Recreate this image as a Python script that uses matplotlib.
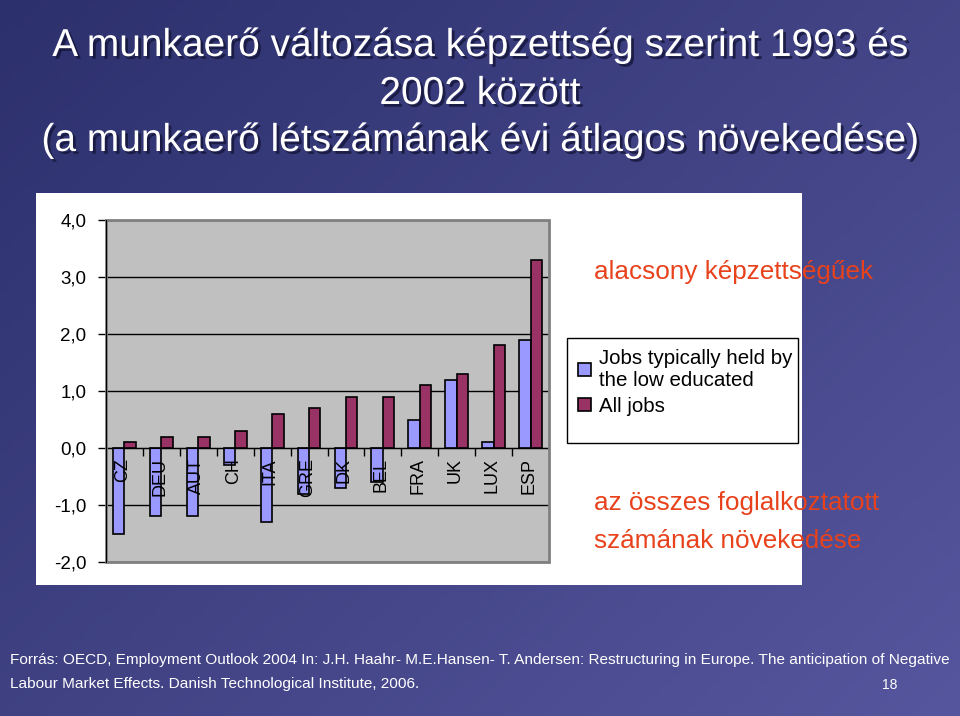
import numpy as np
import matplotlib.pyplot as plt
import matplotlib.patheffects as pe
from matplotlib.patches import Rectangle
from matplotlib.ticker import FuncFormatter, FixedLocator

# adatok (leolvasva az abrarol)
orszagok = ['CZ', 'DEU', 'AUT', 'CH', 'ITA', 'GRE', 'DK', 'BEL', 'FRA', 'UK', 'LUX', 'ESP']
alacsony = [-1.5, -1.2, -1.2, -0.3, -1.3, -0.8, -0.7, -0.6, 0.5, 1.2, 0.1, 1.9]
osszes = [0.1, 0.2, 0.2, 0.3, 0.6, 0.7, 0.9, 0.9, 1.1, 1.3, 1.8, 3.3]
sor_nevek = ['Jobs typically held by\nthe low educated', 'All jobs']
y_tickek = [-2, -1, 0, 1, 2, 3, 4]

cim = ['A munkaerő változása képzettség szerint 1993 és',
       '2002 között',
       '(a munkaerő létszámának évi átlagos növekedése)']
forras = ['Forrás: OECD, Employment Outlook 2004 In: J.H. Haahr- M.E.Hansen- T. Andersen: '
          'Restructuring in Europe. The anticipation of Negative',
          'Labour Market Effects. Danish Technological Institute, 2006.']

plt.rcParams['font.family'] = ['Liberation Sans', 'DejaVu Sans']

W, H = 960, 716
fig = plt.figure(figsize=(W / 100, H / 100), dpi=100)

def fx(px):
    return px / W

def fy(py):
    return 1 - py / H

# hatter: kek atmenet
bg = fig.add_axes([0, 0, 1, 1], zorder=-10)
gx, gy = np.meshgrid(np.linspace(0, 1, 200), np.linspace(0, 1, 150))
t = 0.55 * gx + 0.45 * gy
c0 = np.array([44, 48, 108]) / 255
c1 = np.array([86, 86, 158]) / 255
img = c0[None, None, :] * (1 - t[..., None]) + c1[None, None, :] * t[..., None]
bg.imshow(img, aspect='auto', extent=[0, 1, 0, 1], origin='upper')
bg.set_xlim(0, 1)
bg.set_ylim(0, 1)
bg.axis('off')

# feher panel
fig.patches.append(Rectangle((fx(36), fy(585)), fx(766), (585 - 193) / H,
                             transform=fig.transFigure, facecolor='white',
                             edgecolor='none', zorder=-5))

# cim
shadow = [pe.withSimplePatchShadow(offset=(2, -2), shadow_rgbFace='#15163a', alpha=0.8)]
for sor, ypx in zip(cim, [46, 94, 141]):
    fig.text(0.5, fy(ypx), sor, ha='center', va='center', color='white',
             fontsize=28, path_effects=shadow)

# diagram
ax = fig.add_axes([fx(106), fy(562), fx(443), (562 - 220) / H])
ax.set_facecolor('#c0c0c0')
x = np.arange(len(orszagok))
w = 0.31
ax.bar(x - w / 2, alacsony, w, color='#9999ff', edgecolor='black', linewidth=1.2,
       label=sor_nevek[0], zorder=3)
ax.bar(x + w / 2, osszes, w, color='#993366', edgecolor='black', linewidth=1.2,
       label=sor_nevek[1], zorder=3)

ax.set_xlim(-0.5, len(orszagok) - 0.5)
ax.set_ylim(-2, 4)
ax.yaxis.set_major_locator(FixedLocator(y_tickek))
ax.yaxis.set_major_formatter(FuncFormatter(lambda v, p: f'{v:.1f}'.replace('.', ',')))
ax.tick_params(axis='y', direction='out', length=6, width=1, pad=8, labelsize=13.5)
for v in y_tickek:
    ax.axhline(v, color='black', linewidth=1, zorder=1)

ax.spines['bottom'].set_position(('data', 0))
ax.spines['bottom'].set_zorder(4)
ax.xaxis.set_major_locator(FixedLocator(x[:-1] + 0.5))
ax.tick_params(axis='x', direction='out', length=6, width=1, labelbottom=False)
for s in ['top', 'right']:
    ax.spines[s].set_visible(False)
ax.add_patch(Rectangle((0, 0), 1, 1, transform=ax.transAxes, fill=False,
                       edgecolor='#808080', linewidth=2, zorder=5, clip_on=False))
ax.spines['left'].set_zorder(6)

for xi, nev in zip(x, orszagok):
    ax.text(xi - 0.05, -0.18, nev, rotation=90, ha='center', va='top',
            fontsize=13, color='black', zorder=6)

# jelmagyarazat
fig.patches.append(Rectangle((fx(567), fy(443)), fx(231), (443 - 338) / H,
                             transform=fig.transFigure, facecolor='white',
                             edgecolor='black', linewidth=1, zorder=2))
leg = fig.legend(loc='upper left', bbox_to_anchor=(fx(564), fy(335)), frameon=False,
                 fontsize=14.8, handlelength=0.6, handleheight=0.6, handletextpad=0.4,
                 labelspacing=0.35, borderpad=0.2)
leg.get_texts()[0].set_linespacing(1.15)

# piros feliratok
piros = '#e8421c'
fig.text(fx(594), fy(272), 'alacsony képzettségűek', color=piros, fontsize=18.8,
         va='center', ha='left')
fig.text(fx(594), fy(503), 'az összes foglalkoztatott', color=piros, fontsize=18.8,
         va='center', ha='left')
fig.text(fx(594), fy(541), 'számának növekedése', color=piros, fontsize=18.8,
         va='center', ha='left')

# forras
fig.text(fx(10), fy(660), forras[0], color='white', fontsize=11.1, va='center', ha='left')
fig.text(fx(10), fy(684), forras[1], color='white', fontsize=11.1, va='center', ha='left')
fig.text(fx(890), fy(685), '18', color='white', fontsize=10, va='center', ha='center')

fig.savefig('out.png', dpi=100)
